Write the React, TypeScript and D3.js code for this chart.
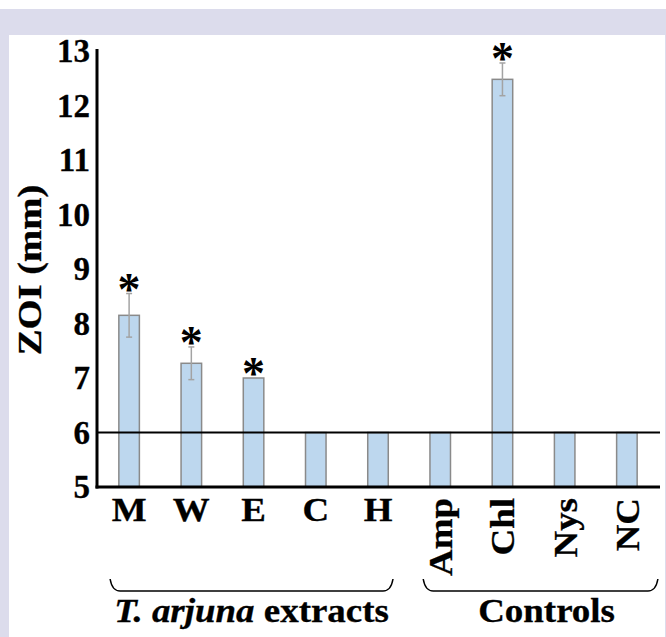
import React, { useEffect, useRef } from 'react'
import * as d3 from 'd3'

// ZOI values
const categories = ['M', 'W', 'E', 'C', 'H', 'Amp', 'Chl', 'Nys', 'NC']
const rotatedLabels = ['Amp', 'Chl', 'Nys', 'NC']
const zoiMeans = [8.15, 7.27, 7.0, 6, 6, 6, 12.48, 6, 6]
const zoiErrors = [0.4, 0.3, 0, 0, 0, 0, 0.3, 0, 0]
const significant = [true, true, true, false, false, false, true, false, false]
const yTicks = [5, 6, 7, 8, 9, 10, 11, 12, 13]
const baselineValue = 6

const groupNames = ['extracts', 'Controls']
const groupFirst = ['M', 'Amp']
const groupLast = ['H', 'NC']

const WIDTH = 666
const HEIGHT = 637
const FONT = '"Liberation Serif", "Times New Roman", serif'
const FS = 33
const STRETCH = 1.12
const STAR_FS = 46

const App = () => {
    const svgRef = useRef<SVGSVGElement>(null)

    useEffect(() => {
        const svg = d3.select(svgRef.current)
        svg.selectAll('*').remove()

        const xScale = d3.scalePoint<string>().domain(categories).range([98, 658]).padding(0.5)
        const yScale = d3.scaleLinear().domain([5, 13]).range([487, 51])
        const barW = xScale.step() * 0.33

        // page frame
        svg.append('rect').attr('x', 0).attr('y', 9).attr('width', WIDTH).attr('height', HEIGHT - 9).attr('fill', '#dcdcec')
        svg.append('rect').attr('x', 9).attr('y', 35).attr('width', 656).attr('height', HEIGHT - 35).attr('fill', '#ffffff')

        const rows = categories.map((c, i) => ({ c, v: zoiMeans[i], e: zoiErrors[i], s: significant[i] }))

        // bars
        svg.selectAll('rect.bar')
            .data(rows)
            .enter()
            .append('rect')
            .classed('bar', true)
            .attr('x', d => (xScale(d.c) as number) - barW / 2)
            .attr('y', d => yScale(d.v))
            .attr('width', barW)
            .attr('height', d => yScale(5) - yScale(d.v))
            .attr('fill', '#bdd7ee')
            .attr('stroke', '#8a8a8a')
            .attr('stroke-width', 1.5)

        // error bars
        const errRows = rows.filter(d => d.e > 0)
        const errG = svg.append('g').attr('stroke', '#a3a3a3').attr('stroke-width', 1.5)
        errG.selectAll('line.err')
            .data(errRows)
            .enter()
            .append('line')
            .attr('x1', d => xScale(d.c) as number)
            .attr('x2', d => xScale(d.c) as number)
            .attr('y1', d => yScale(d.v + d.e))
            .attr('y2', d => yScale(d.v - d.e))
        errG.selectAll('line.capTop')
            .data(errRows)
            .enter()
            .append('line')
            .attr('x1', d => (xScale(d.c) as number) - 3)
            .attr('x2', d => (xScale(d.c) as number) + 3)
            .attr('y1', d => yScale(d.v + d.e))
            .attr('y2', d => yScale(d.v + d.e))
        errG.selectAll('line.capBot')
            .data(errRows)
            .enter()
            .append('line')
            .attr('x1', d => (xScale(d.c) as number) - 3)
            .attr('x2', d => (xScale(d.c) as number) + 3)
            .attr('y1', d => yScale(d.v - d.e))
            .attr('y2', d => yScale(d.v - d.e))

        // asterisks
        svg.selectAll('text.star')
            .data(rows.filter(d => d.s))
            .enter()
            .append('text')
            .text('*')
            .attr('x', d => xScale(d.c) as number)
            .attr('y', d => yScale(d.v + d.e) - 12 + STAR_FS * 0.5)
            .attr('text-anchor', 'middle')
            .attr('font-family', FONT)
            .attr('font-weight', 'bold')
            .attr('font-size', STAR_FS)

        // reference line at 6
        svg.append('line')
            .attr('x1', 97).attr('x2', 660)
            .attr('y1', yScale(baselineValue)).attr('y2', yScale(baselineValue))
            .attr('stroke', '#000').attr('stroke-width', 2)

        // axes
        const yAxis = svg.append('g')
            .attr('transform', 'translate(97, 0)')
            .call(d3.axisLeft(yScale).tickValues(yTicks).tickSize(0).tickPadding(7).tickFormat(d3.format('d')))
        yAxis.select('.domain').attr('stroke', '#000').attr('stroke-width', 3).attr('d', `M0,${yScale(13) - 2}V${yScale(5) + 1.5}`)
        yAxis.selectAll('text')
            .attr('font-family', FONT).attr('font-weight', 'bold').attr('font-size', FS).attr('fill', '#000')
            .attr('stroke', '#000').attr('stroke-width', 0.3)

        svg.append('line')
            .attr('x1', 95.5).attr('x2', 660)
            .attr('y1', yScale(5)).attr('y2', yScale(5))
            .attr('stroke', '#000').attr('stroke-width', 3)

        const boldText = (sel: any) => sel
            .attr('font-family', FONT).attr('font-weight', 'bold').attr('font-size', FS)
            .attr('stroke', '#000').attr('stroke-width', 0.3)

        // category labels
        svg.selectAll('text.cat')
            .data(categories.filter(c => !rotatedLabels.includes(c)))
            .enter()
            .append('text')
            .text(d => d)
            .attr('transform', d => `translate(${xScale(d) as number}, 521) scale(${STRETCH}, 1)`)
            .attr('text-anchor', 'middle')
            .call(boldText)

        svg.selectAll('text.catRot')
            .data(rotatedLabels)
            .enter()
            .append('text')
            .text(d => d)
            .attr('transform', d => `translate(${(xScale(d) as number) + 12}, 498) rotate(-90) scale(${STRETCH}, 1)`)
            .attr('text-anchor', 'end')
            .call(boldText)

        // group braces
        groupNames.forEach((g, i) => {
            const x0 = (xScale(groupFirst[i]) as number) - (i === 0 ? 19 : 17)
            const x1 = (xScale(groupLast[i]) as number) + (i === 0 ? 15 : 31)
            const yTop = 579
            const yLine = 591
            svg.append('path')
                .attr('d', `M${x0},${yTop} Q${x0 + 2},${yLine} ${x0 + 10},${yLine} L${x1 - 10},${yLine} Q${x1 - 2},${yLine} ${x1},${yTop}`)
                .attr('fill', 'none').attr('stroke', '#000').attr('stroke-width', 1.5)

            const label = svg.append('text')
                .attr('transform', `translate(${(x0 + x1) / 2 + (i === 0 ? 0 : 6)}, 622) scale(${STRETCH}, 1)`)
                .attr('text-anchor', 'middle')
                .call(boldText)
            if (i === 0) {
                label.append('tspan').attr('font-style', 'italic').text('T. arjuna')
                label.append('tspan').text(' ' + g)
            } else {
                label.text(g)
            }
        })

        // y axis title
        svg.append('text')
            .text('ZOI (mm)')
            .attr('transform', `translate(41, 270) rotate(-90) scale(${STRETCH + 0.05}, 1)`)
            .attr('text-anchor', 'middle')
            .call(boldText)
    }, [])

    return (
        <div style={{ position: 'fixed', left: 0, top: 0, background: '#fff' }}>
            <svg ref={svgRef} width={WIDTH} height={HEIGHT} style={{ display: 'block' }}></svg>
        </div>
    )
}

export default App
